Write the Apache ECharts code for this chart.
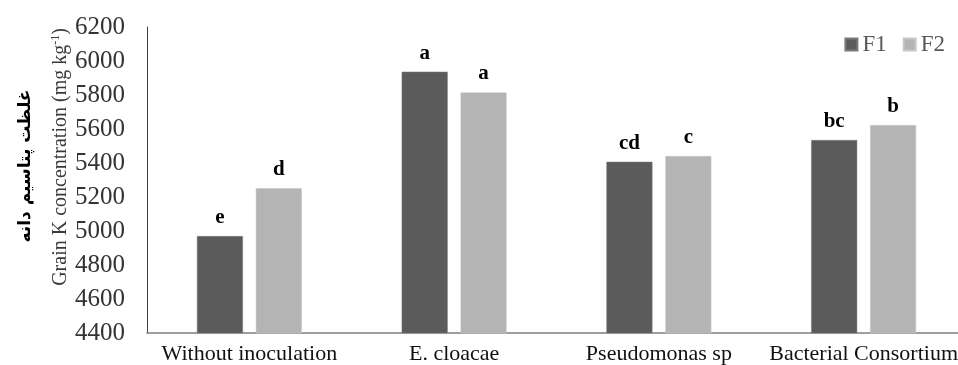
<!DOCTYPE html>
<html>
<head>
<meta charset="utf-8">
<script src="https://cdn.jsdelivr.net/npm/echarts@6/dist/echarts.min.js"></script>
<style>html,body{margin:0;padding:0;background:#fff}#c{width:958px;height:365px}</style>
</head>
<body>
<div id="c"></div>
<script>
const categories = ['Without inoculation', 'E. cloacae', 'Pseudomonas sp', 'Bacterial Consortium'];
const f1Values = [4970, 5937, 5407, 5535];
const f2Values = [5251, 5815, 5441, 5623];
const f1Letters = ['e', 'a', 'cd', 'bc'];
const f2Letters = ['d', 'a', 'c', 'b'];
const yTicks = [4400, 4600, 4800, 5000, 5200, 5400, 5600, 5800, 6000, 6200];

const serif = '"Liberation Serif", "Times New Roman", serif';
const chart = echarts.init(document.getElementById('c'));
function letterLabel(letters) {
  return {
    show: true, position: 'top', distance: 8,
    fontFamily: serif, fontWeight: 'bold', fontSize: 21, color: '#000',
    formatter: p => letters[p.dataIndex]
  };
}
chart.setOption({
  animation: false,
  grid: { left: 147, top: 27, bottom: 32, right: -8, outerBoundsMode: 'none', containLabel: false },
  legend: {
    right: 8, top: 28, itemWidth: 12, itemHeight: 12, itemGap: 16,
    icon: 'rect',
    textStyle: { fontFamily: serif, fontSize: 23, color: '#595959' },
    data: ['F1', 'F2']
  },
  xAxis: {
    type: 'category', data: categories,
    axisLine: { lineStyle: { color: '#7f7f7f', width: 1.5 } },
    axisTick: { show: false },
    axisLabel: { fontFamily: serif, fontSize: 22, color: '#111', margin: 10, interval: 0 }
  },
  yAxis: {
    type: 'value', min: yTicks[0], max: yTicks[yTicks.length - 1], interval: 200,
    splitLine: { show: false },
    axisLine: { show: true, lineStyle: { color: '#404040', width: 1 } },
    axisTick: { show: false },
    axisLabel: { fontFamily: serif, fontSize: 25, color: '#333', margin: 22, formatter: v => String(v) }
  },
  series: [
    { name: 'F1', type: 'bar', data: f1Values, barWidth: 46, barGap: '28%',
      itemStyle: { color: '#5b5b5b', borderColor: '#7a7a7a', borderWidth: 0.5 },
      label: letterLabel(f1Letters) },
    { name: 'F2', type: 'bar', data: f2Values, barWidth: 46,
      itemStyle: { color: '#b4b4b4', borderColor: '#c8c8c8', borderWidth: 0.5 },
      label: letterLabel(f2Letters) }
  ],
  graphic: [
    { type: 'text', x: 61, y: 157, rotation: Math.PI / 2,
      style: {
        text: '{n|Grain K concentration (mg kg}{s|-1}{n|)}',
        align: 'center', verticalAlign: 'middle',
        rich: {
          n: { fontFamily: serif, fontSize: 20, fill: '#3a3a3a' },
          s: { fontFamily: serif, fontSize: 12, fill: '#3a3a3a', padding: [0, 0, 10, 0] }
        }
      } },
    { type: 'text', x: 26, y: 166, rotation: Math.PI / 2,
      style: {
        text: 'غلظت پتاسیم دانه', align: 'center', verticalAlign: 'middle',
        fontFamily: '"DejaVu Sans", "Noto Sans", sans-serif', fontWeight: 'bold', fontSize: 17, fill: '#000'
      } }
  ]
});
</script>
</body>
</html>
